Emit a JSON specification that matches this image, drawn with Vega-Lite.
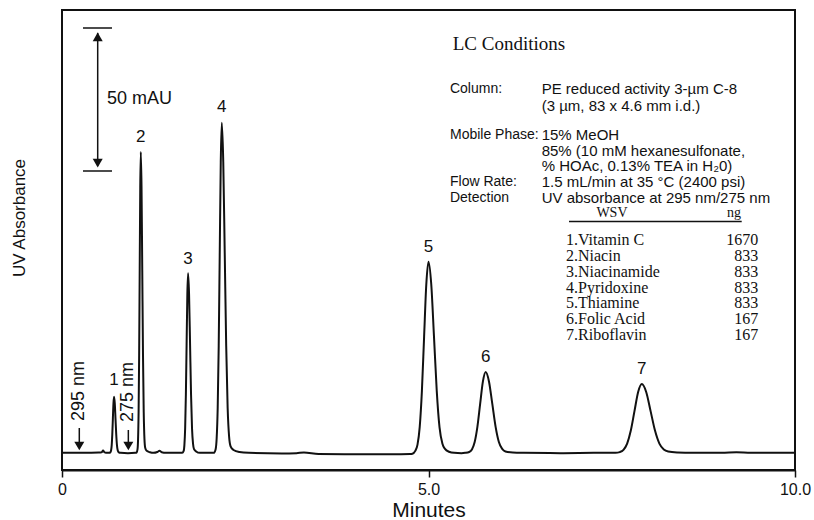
{
  "$schema": "https://vega.github.io/schema/vega-lite/v6.json",
  "width": 733,
  "height": 460,
  "autosize": {"type": "none"},
  "padding": {"left": 62, "top": 10, "right": 19, "bottom": 50},
  "background": "white",
  "config": {
    "view": {"stroke": "#111", "strokeWidth": 2},
    "font": "Liberation Sans",
    "text": {"font": "Liberation Sans", "color": "#111"}
  },
  "datasets": {
    "chrom": [
      {"t": 0, "v": 0}, {"t": 0.3, "v": 0}, {"t": 0.5, "v": 0.1}, {"t": 0.54, "v": 0.2}, {"t": 0.56, "v": 0.8}, {"t": 0.58, "v": 0.2}, {"t": 0.6, "v": 0},
      {"t": 0.645, "v": 0}, {"t": 0.66, "v": 0.2}, {"t": 0.67, "v": 0.9}, {"t": 0.678, "v": 2.6}, {"t": 0.686, "v": 6.4}, {"t": 0.694, "v": 11.9}, {"t": 0.702, "v": 17.3}, {"t": 0.71, "v": 19.6}, {"t": 0.72, "v": 17.3}, {"t": 0.73, "v": 11.9}, {"t": 0.74, "v": 6.4}, {"t": 0.75, "v": 2.6}, {"t": 0.76, "v": 0.9}, {"t": 0.775, "v": 0.2}, {"t": 0.8, "v": 0},
      {"t": 0.9, "v": -0.1}, {"t": 1.0, "v": 0},
      {"t": 1.015, "v": 0}, {"t": 1.03, "v": 1.2}, {"t": 1.0375, "v": 4.6}, {"t": 1.045, "v": 14.2}, {"t": 1.0525, "v": 34.2}, {"t": 1.06, "v": 63.9}, {"t": 1.0675, "v": 92.9}, {"t": 1.075, "v": 105.3}, {"t": 1.085, "v": 92.9}, {"t": 1.095, "v": 63.9}, {"t": 1.105, "v": 34.2}, {"t": 1.115, "v": 14.2}, {"t": 1.125, "v": 4.8}, {"t": 1.135, "v": 1.8}, {"t": 1.155, "v": 0.7}, {"t": 1.2, "v": 0.2},
      {"t": 1.25, "v": 0}, {"t": 1.3, "v": 0.3}, {"t": 1.33, "v": 0.7}, {"t": 1.36, "v": 0.2}, {"t": 1.42, "v": 0}, {"t": 1.55, "v": 0},
      {"t": 1.64, "v": 0}, {"t": 1.66, "v": 0.7}, {"t": 1.67, "v": 2.8}, {"t": 1.68, "v": 8.5}, {"t": 1.69, "v": 20.4}, {"t": 1.7, "v": 38.2}, {"t": 1.71, "v": 55.5}, {"t": 1.72, "v": 62.9}, {"t": 1.7335, "v": 55.5}, {"t": 1.747, "v": 38.2}, {"t": 1.7605, "v": 20.4}, {"t": 1.774, "v": 8.5}, {"t": 1.7875, "v": 3.2}, {"t": 1.801, "v": 1.3}, {"t": 1.83, "v": 0.5}, {"t": 1.88, "v": 0}, {"t": 2.0, "v": 0},
      {"t": 2.07, "v": 0}, {"t": 2.096, "v": 1.3}, {"t": 2.11, "v": 5.1}, {"t": 2.124, "v": 15.6}, {"t": 2.138, "v": 37.5}, {"t": 2.152, "v": 70.1}, {"t": 2.166, "v": 101.9}, {"t": 2.18, "v": 115.5}, {"t": 2.2, "v": 101.9}, {"t": 2.22, "v": 70.1}, {"t": 2.24, "v": 37.5}, {"t": 2.26, "v": 15.6}, {"t": 2.28, "v": 5.6}, {"t": 2.3, "v": 2.3}, {"t": 2.34, "v": 1.0}, {"t": 2.42, "v": 0.3}, {"t": 2.55, "v": 0},
      {"t": 3.0, "v": -0.2}, {"t": 3.2, "v": -0.1}, {"t": 3.3, "v": 0.1}, {"t": 3.5, "v": -0.4}, {"t": 4.0, "v": -0.5}, {"t": 4.5, "v": -0.5}, {"t": 4.75, "v": -0.4},
      {"t": 4.78, "v": -0.3}, {"t": 4.82, "v": 0.7}, {"t": 4.85, "v": 2.9}, {"t": 4.88, "v": 9}, {"t": 4.91, "v": 21.7}, {"t": 4.94, "v": 40.6}, {"t": 4.97, "v": 59}, {"t": 5.0, "v": 66.9}, {"t": 5.0375, "v": 59}, {"t": 5.075, "v": 40.6}, {"t": 5.1125, "v": 21.7}, {"t": 5.15, "v": 9}, {"t": 5.19, "v": 3.2}, {"t": 5.225, "v": 1.4}, {"t": 5.28, "v": 0.4}, {"t": 5.35, "v": 0}, {"t": 5.45, "v": -0.1},
      {"t": 5.5, "v": 0}, {"t": 5.555, "v": 0.3}, {"t": 5.5925, "v": 1.2}, {"t": 5.63, "v": 3.8}, {"t": 5.6675, "v": 9.2}, {"t": 5.705, "v": 17.2}, {"t": 5.7425, "v": 25}, {"t": 5.78, "v": 28.3}, {"t": 5.825, "v": 25}, {"t": 5.87, "v": 17.2}, {"t": 5.915, "v": 9.2}, {"t": 5.96, "v": 3.8}, {"t": 6.005, "v": 1.4}, {"t": 6.05, "v": 0.5}, {"t": 6.15, "v": 0.1}, {"t": 6.3, "v": 0},
      {"t": 6.8, "v": -0.1}, {"t": 7.3, "v": 0}, {"t": 7.5, "v": 0},
      {"t": 7.55, "v": 0}, {"t": 7.61, "v": 0.27}, {"t": 7.66, "v": 1.06}, {"t": 7.71, "v": 3.25}, {"t": 7.76, "v": 7.8}, {"t": 7.81, "v": 14.6}, {"t": 7.86, "v": 21.3}, {"t": 7.91, "v": 24.1}, {"t": 7.97, "v": 21.3}, {"t": 8.03, "v": 14.6}, {"t": 8.09, "v": 7.8}, {"t": 8.15, "v": 3.25}, {"t": 8.21, "v": 1.2}, {"t": 8.27, "v": 0.5}, {"t": 8.4, "v": 0.15}, {"t": 8.6, "v": 0},
      {"t": 9.0, "v": 0}, {"t": 9.2, "v": 0.2}, {"t": 9.4, "v": 0}, {"t": 10, "v": 0}
    ],
    "rules": [
      {"t": 0.487, "v": 100.5, "t2": 0.487, "v2": 147.0},
      {"t": 0.286, "v": 148.7, "t2": 0.682, "v2": 148.7},
      {"t": 0.286, "v": 98.65, "t2": 0.682, "v2": 98.65},
      {"t": 0.236, "v": 3.0, "t2": 0.236, "v2": 8.7},
      {"t": 0.905, "v": 3.0, "t2": 0.905, "v2": 8.0},
      {"t": 6.917, "v": 81.0, "t2": 9.273, "v2": 81.0}
    ],
    "arrowsUp": [{"t": 0.487, "v": 145.6}],
    "arrowsDown": [{"t": 0.487, "v": 101.4}, {"t": 0.236, "v": 2.4}, {"t": 0.905, "v": 2.4}],
    "peaks": [
      {"t": 0.71, "v": 25.5, "label": "1"},
      {"t": 1.075, "v": 110.4, "label": "2"},
      {"t": 1.72, "v": 67.85, "label": "3"},
      {"t": 2.18, "v": 121.05, "label": "4"},
      {"t": 5.0, "v": 72.05, "label": "5"},
      {"t": 5.78, "v": 33.55, "label": "6"},
      {"t": 7.91, "v": 29.35, "label": "7"}
    ],
    "scaleText": [{"t": 0.614, "v": 123.85, "label": "50 mAU"}],
    "nmText": [
      {"t": 0.236, "v": 21.65, "label": "295 nm"},
      {"t": 0.905, "v": 21.3, "label": "275 nm"}
    ],
    "lcTitle": [{"t": 5.33, "v": 143.1, "label": "LC Conditions"}],
    "condLabels": [
      {"t": 5.293, "v": 127.3, "label": "Column:"},
      {"t": 5.293, "v": 111.2, "label": "Mobile Phase:"},
      {"t": 5.293, "v": 94.8, "label": "Flow Rate:"},
      {"t": 5.293, "v": 89.1, "label": "Detection"}
    ],
    "condValues": [
      {"t": 6.544, "v": 127.3, "label": "PE reduced activity 3-µm C-8"},
      {"t": 6.544, "v": 121.4, "label": "(3 µm, 83 x 4.6 mm i.d.)"},
      {"t": 6.544, "v": 111.2, "label": "15% MeOH"},
      {"t": 6.544, "v": 105.8, "label": "85% (10 mM hexanesulfonate,"},
      {"t": 6.544, "v": 100.4, "label": "% HOAc, 0.13% TEA in H₂0)"},
      {"t": 6.544, "v": 94.8, "label": "1.5 mL/min at 35 °C (2400 psi)"},
      {"t": 6.544, "v": 89.1, "label": "UV absorbance at 295 nm/275 nm"}
    ],
    "tableHead": [
      {"t": 7.503, "v": 83.9, "label": "WSV"},
      {"t": 9.168, "v": 83.9, "label": "ng"}
    ],
    "tableNames": [
      {"t": 6.876, "v": 74.5, "label": "1.Vitamin C"},
      {"t": 6.876, "v": 68.9, "label": "2.Niacin"},
      {"t": 6.876, "v": 63.4, "label": "3.Niacinamide"},
      {"t": 6.876, "v": 57.8, "label": "4.Pyridoxine"},
      {"t": 6.876, "v": 52.3, "label": "5.Thiamine"},
      {"t": 6.876, "v": 46.7, "label": "6.Folic Acid"},
      {"t": 6.876, "v": 41.2, "label": "7.Riboflavin"}
    ],
    "tableNums": [
      {"t": 9.5, "v": 74.5, "label": "1670"},
      {"t": 9.5, "v": 68.9, "label": "833"},
      {"t": 9.5, "v": 63.4, "label": "833"},
      {"t": 9.5, "v": 57.8, "label": "833"},
      {"t": 9.5, "v": 52.3, "label": "833"},
      {"t": 9.5, "v": 46.7, "label": "167"},
      {"t": 9.5, "v": 41.2, "label": "167"}
    ]
  },
  "encoding": {
    "x": {
      "field": "t", "type": "quantitative",
      "scale": {"domain": [0, 10], "nice": false, "zero": false},
      "axis": {
        "values": [0, 5, 10],
        "labelExpr": "datum.value == 0 ? '0' : format(datum.value, '.1f')",
        "grid": false,
        "tickSize": 7, "tickWidth": 1.5, "tickColor": "#111",
        "domainColor": "#111", "domainWidth": 2,
        "labelFontSize": 16, "labelColor": "#111", "labelPadding": 4, "labelFlush": false,
        "title": "Minutes", "titleFontSize": 21, "titleFontWeight": "normal", "titleColor": "#111",
        "titleBaseline": "alphabetic", "titleY": 46
      }
    },
    "y": {
      "field": "v", "type": "quantitative",
      "scale": {"domain": [-6, 155], "nice": false, "zero": false},
      "axis": {
        "grid": false, "domain": false, "ticks": false, "labels": false,
        "title": "UV  Absorbance", "titleFontSize": 17, "titleFontWeight": "normal", "titleColor": "#111",
        "titleAngle": 270, "titleBaseline": "alphabetic", "titleAlign": "center",
        "titleX": -38, "titleY": 207.5
      }
    }
  },
  "layer": [
    {
      "data": {"name": "chrom"},
      "mark": {"type": "line", "interpolate": "monotone", "color": "#111", "strokeWidth": 2}
    },
    {
      "data": {"name": "rules"},
      "mark": {"type": "rule", "color": "#111", "strokeWidth": 1.5},
      "encoding": {"x2": {"field": "t2"}, "y2": {"field": "v2"}}
    },
    {
      "data": {"name": "arrowsUp"},
      "mark": {"type": "point", "shape": "triangle-up", "filled": true, "size": 100, "color": "#111", "opacity": 1}
    },
    {
      "data": {"name": "arrowsDown"},
      "mark": {"type": "point", "shape": "triangle-down", "filled": true, "size": 100, "color": "#111", "opacity": 1}
    },
    {
      "data": {"name": "peaks"},
      "mark": {"type": "text", "fontSize": 17, "align": "center", "baseline": "middle"},
      "encoding": {"text": {"field": "label"}}
    },
    {
      "data": {"name": "scaleText"},
      "mark": {"type": "text", "fontSize": 18, "align": "left", "baseline": "middle"},
      "encoding": {"text": {"field": "label"}}
    },
    {
      "data": {"name": "nmText"},
      "mark": {"type": "text", "fontSize": 18, "align": "center", "baseline": "middle", "angle": 270},
      "encoding": {"text": {"field": "label"}}
    },
    {
      "data": {"name": "lcTitle"},
      "mark": {"type": "text", "font": "Liberation Serif", "fontSize": 19, "align": "left", "baseline": "middle"},
      "encoding": {"text": {"field": "label"}}
    },
    {
      "data": {"name": "condLabels"},
      "mark": {"type": "text", "fontSize": 14, "align": "left", "baseline": "middle"},
      "encoding": {"text": {"field": "label"}}
    },
    {
      "data": {"name": "condValues"},
      "mark": {"type": "text", "fontSize": 15, "align": "left", "baseline": "middle"},
      "encoding": {"text": {"field": "label"}}
    },
    {
      "data": {"name": "tableHead"},
      "mark": {"type": "text", "font": "Liberation Serif", "fontSize": 14, "align": "center", "baseline": "middle"},
      "encoding": {"text": {"field": "label"}}
    },
    {
      "data": {"name": "tableNames"},
      "mark": {"type": "text", "font": "Liberation Serif", "fontSize": 16, "align": "left", "baseline": "middle"},
      "encoding": {"text": {"field": "label"}}
    },
    {
      "data": {"name": "tableNums"},
      "mark": {"type": "text", "font": "Liberation Serif", "fontSize": 16, "align": "right", "baseline": "middle"},
      "encoding": {"text": {"field": "label"}}
    }
  ]
}
